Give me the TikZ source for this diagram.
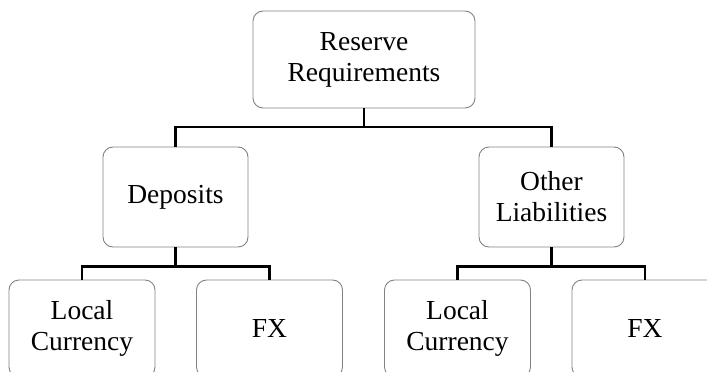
\documentclass[tikz,border=0pt]{standalone}
\usepackage{fontspec}
\setmainfont{Liberation Serif}
\usetikzlibrary{positioning}
\definecolor{boxgrey}{RGB}{130,130,130}

\begin{document}
\begin{tikzpicture}[x=1pt,y=-1pt, every node/.style={font=\fontsize{27.5}{31}\selectfont},
  top/.style={draw=boxgrey,rounded corners=10pt,line width=0.9pt,inner sep=2pt,
              minimum width=222pt,minimum height=97pt,align=center},
  mid/.style={draw=boxgrey,rounded corners=10pt,line width=0.9pt,inner sep=2pt,
              minimum width=145pt,minimum height=100pt,align=center},
  leaf/.style={draw=boxgrey,rounded corners=10pt,line width=0.9pt,inner sep=2pt,
               minimum width=146pt,minimum height=97pt,align=center},
  link/.style={black,line width=2.3pt}]
\useasboundingbox (0,0) rectangle (707,372);
\clip (0,0) rectangle (707,372);

\node[top] (rr) at (364,59.5) {Reserve\\Requirements};

\node[mid] (dep) at (175.5,197) {Deposits};
\node[mid] (oth) at (551.5,197) {Other\\Liabilities};

\node[leaf] (dlc) at (82,328.5)  {Local\\Currency};
\node[leaf] (dfx) at (269.5,328.5) {FX};
\node[leaf] (olc) at (457.5,328.5) {Local\\Currency};
\node[leaf] (ofx) at (645,328.5) {FX};

\foreach \a/\b in {rr/dep,rr/oth} \draw[link] (\a.south) -- ++(0,18.5) -| (\b.north);
\foreach \a/\b in {dep/dlc,dep/dfx,oth/olc,oth/ofx} \draw[link] (\a.south) -- ++(0,19) -| (\b.north);
\end{tikzpicture}
\end{document}
